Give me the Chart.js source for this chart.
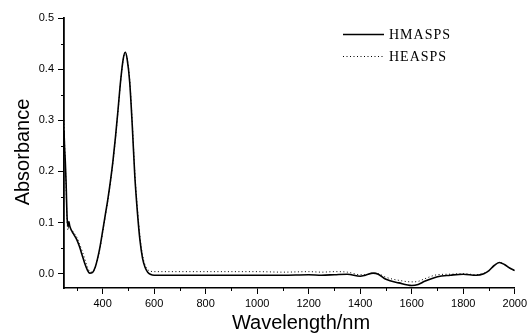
<!DOCTYPE html>
<html>
<head>
<meta charset="utf-8">
<script src="https://cdn.jsdelivr.net/npm/chart.js@4"></script>
<style>
  html, body { margin: 0; padding: 0; background: #fff; }
</style>
</head>
<body>
<canvas id="grafico" width="530" height="333"></canvas>
<script>
// longitudes de onda (nm)
const longitudes = [250, 252, 255, 258, 262, 266, 269, 272, 276, 282, 290, 300, 310, 320, 330, 340, 350, 360, 370, 380,
  390, 400, 410, 420, 430, 440, 450, 460, 470, 480, 488, 495, 505, 515, 525, 535, 545, 555, 565, 575, 585, 600,
  700, 800, 900, 1000, 1100, 1200, 1250, 1300, 1350, 1400, 1420, 1450, 1470, 1500, 1550, 1600, 1625, 1650, 1700,
  1750, 1800, 1850, 1880, 1900, 1920, 1940, 1960, 1980, 2000];

const hmasps = [0.28, 0.25, 0.22, 0.18, 0.11, 0.092, 0.102, 0.094, 0.088, 0.082, 0.075, 0.066, 0.053, 0.037, 0.021, 0.008, 0.001, 0.002, 0.011, 0.029,
  0.053, 0.083, 0.114, 0.145, 0.18, 0.22, 0.268, 0.322, 0.378, 0.42, 0.433, 0.42, 0.375, 0.29, 0.19, 0.12, 0.065, 0.03, 0.012, 0.003, -0.001, -0.003,
  -0.003, -0.003, -0.003, -0.003, -0.003, -0.002, -0.003, -0.002, -0.001, -0.005, -0.003, 0.001, -0.001, -0.011, -0.018, -0.023, -0.021, -0.015, -0.006,
  -0.003, -0.001, -0.003, 0.0, 0.006, 0.016, 0.022, 0.018, 0.011, 0.006];

const heasps = [0.30, 0.26, 0.22, 0.17, 0.10, 0.085, 0.095, 0.09, 0.088, 0.084, 0.079, 0.071, 0.059, 0.045, 0.03, 0.014, 0.004, 0.003, 0.01, 0.027,
  0.05, 0.08, 0.111, 0.142, 0.177, 0.217, 0.265, 0.319, 0.376, 0.419, 0.433, 0.422, 0.38, 0.297, 0.198, 0.128, 0.072, 0.036, 0.017, 0.008, 0.005, 0.004,
  0.004, 0.004, 0.004, 0.004, 0.003, 0.004, 0.003, 0.004, 0.003, -0.002, -0.002, 0.001, 0.0, -0.007, -0.013, -0.016, -0.015, -0.01, -0.002,
  -0.001, 0.0, -0.002, 0.001, 0.006, 0.016, 0.022, 0.018, 0.011, 0.006];

const ticksX = [400, 600, 800, 1000, 1200, 1400, 1600, 1800, 2000];
const ticksY = [0.0, 0.1, 0.2, 0.3, 0.4, 0.5];

const fuente = "'Liberation Sans', Arial, sans-serif";

// marcas menores, leyenda y títulos de ejes
const extras = {
  id: 'extras',
  afterDraw(chart) {
    const ctx = chart.ctx;
    const x = chart.scales.x, y = chart.scales.y;
    const area = chart.chartArea;
    ctx.save();
    ctx.strokeStyle = '#000';
    ctx.lineWidth = 1;
    // menores eje x cada 100
    for (let v = 300; v < 2000; v += 200) {
      const px = Math.round(x.getPixelForValue(v)) + 0.5;
      ctx.beginPath(); ctx.moveTo(px, area.bottom); ctx.lineTo(px, area.bottom + 3); ctx.stroke();
    }
    // menores eje y cada 0.05
    for (let v = 0.05; v < 0.5; v += 0.1) {
      const py = Math.round(y.getPixelForValue(v)) + 0.5;
      ctx.beginPath(); ctx.moveTo(area.left, py); ctx.lineTo(area.left - 3, py); ctx.stroke();
    }

    // leyenda
    const filas = [34, 56];
    chart.data.datasets.forEach((ds, i) => {
      ctx.beginPath();
      ctx.strokeStyle = '#000';
      ctx.lineWidth = ds.borderWidth;
      ctx.setLineDash(ds.borderDash || []);
      ctx.moveTo(343, filas[i] + 0.5); ctx.lineTo(384, filas[i] + 0.5);
      ctx.stroke();
      ctx.setLineDash([]);
      ctx.fillStyle = '#000';
      ctx.font = "14px 'Liberation Serif', 'Times New Roman', serif";
      ctx.letterSpacing = '1px';
      ctx.textBaseline = 'middle';
      ctx.textAlign = 'left';
      ctx.fillText(ds.label, 389, filas[i] + 1);
    });
    ctx.letterSpacing = '0px';

    // títulos de ejes
    ctx.fillStyle = '#000';
    ctx.font = '20px ' + fuente;
    ctx.textAlign = 'center';
    ctx.textBaseline = 'middle';
    ctx.fillText('Wavelength/nm', 301, 323);
    ctx.translate(23, 152);
    ctx.rotate(-Math.PI / 2);
    ctx.fillText('Absorbance', 0, 0);
    ctx.restore();
  }
};

const ctx = document.getElementById('grafico').getContext('2d');
new Chart(ctx, {
  type: 'line',
  data: {
    datasets: [
      {
        label: 'HMASPS',
        data: longitudes.map((l, i) => ({ x: l, y: hmasps[i] })),
        borderColor: '#000',
        borderWidth: 1.6,
        pointRadius: 0,
        cubicInterpolationMode: 'monotone',
        fill: false
      },
      {
        label: 'HEASPS',
        data: longitudes.map((l, i) => ({ x: l, y: heasps[i] })),
        borderColor: '#000',
        borderWidth: 1,
        borderDash: [1, 2.5],
        pointRadius: 0,
        cubicInterpolationMode: 'monotone',
        fill: false
      }
    ]
  },
  options: {
    responsive: false,
    animation: false,
    devicePixelRatio: 1,
    layout: { padding: { top: 18, right: 15, left: 0, bottom: 0 } },
    plugins: { legend: { display: false }, tooltip: { enabled: false } },
    scales: {
      x: {
        type: 'linear',
        min: 250,
        max: 2000,
        afterBuildTicks: (s) => { s.ticks = ticksX.map(v => ({ value: v })); },
        afterFit: (s) => { s.height = 45; },
        grid: { drawOnChartArea: false, drawTicks: true, tickLength: 6, color: '#000' },
        border: { display: true, color: '#000', width: 1.5 },
        ticks: { color: '#000', font: { family: fuente, size: 11 }, padding: 3, maxRotation: 0, autoSkip: false,
          callback: (v) => String(v) }
      },
      y: {
        type: 'linear',
        min: -0.028,
        max: 0.5,
        afterBuildTicks: (s) => { s.ticks = ticksY.map(v => ({ value: v })); },
        afterFit: (s) => { s.width = 64; },
        grid: { drawOnChartArea: false, drawTicks: true, tickLength: 6, color: '#000' },
        border: { display: true, color: '#000', width: 1.8 },
        ticks: { color: '#000', font: { family: fuente, size: 11 }, padding: 4,
          callback: (v) => v.toFixed(1) }
      }
    }
  },
  plugins: [extras]
});
</script>
</body>
</html>
